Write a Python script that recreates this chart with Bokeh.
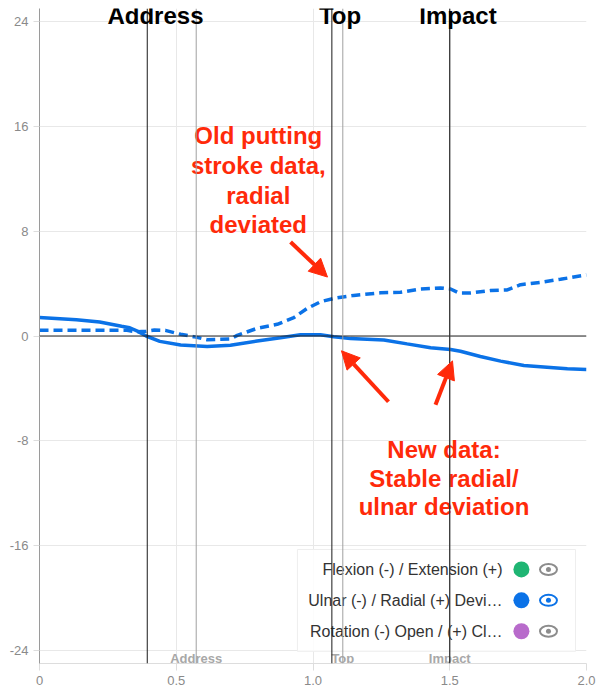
from bokeh.plotting import figure
from bokeh.models import Range1d, Span, Arrow, NormalHead, FixedTicker, Label
from bokeh.core.properties import value
from bokeh.embed import file_html
from bokeh.resources import INLINE

# ---------------- data ----------------
new_t = [0, 0.135, 0.22, 0.30, 0.33, 0.36, 0.39, 0.44, 0.516, 0.613, 0.698, 0.796, 0.881, 0.954,
         1.027, 1.076, 1.137, 1.259, 1.344, 1.43, 1.503, 1.539, 1.612, 1.686, 1.771, 1.88, 1.93, 2.0]
new_dev = [1.42, 1.24, 1.07, 0.74, 0.63, 0.35, 0.0, -0.41, -0.69, -0.81, -0.71, -0.38, -0.13, 0.1,
           0.1, -0.05, -0.2, -0.3, -0.6, -0.9, -1.03, -1.16, -1.56, -1.92, -2.25, -2.42, -2.5, -2.55]

old_t = [0, 0.14, 0.32, 0.35, 0.39, 0.42, 0.46, 0.516, 0.563, 0.613, 0.698, 0.723, 0.796, 0.869,
         0.93, 0.979, 1.027, 1.076, 1.149, 1.247, 1.32, 1.393, 1.466, 1.503, 1.533, 1.576, 1.649,
         1.71, 1.759, 1.832, 1.905, 2.0]
old_dev = [0.43, 0.43, 0.43, 0.32, 0.36, 0.45, 0.43, 0.13, -0.05, -0.28, -0.23, 0.05, 0.59, 0.89,
           1.40, 2.11, 2.61, 2.87, 3.10, 3.30, 3.34, 3.59, 3.67, 3.59, 3.29, 3.29, 3.47,
           3.52, 3.92, 4.10, 4.33, 4.66]

event_names = ["Address", "Top", "Impact"]
old_events = [0.394, 1.069, 1.5]      # black lines (old stroke)
new_events = [0.573, 1.109, 1.5]      # gray lines (new data)

x_ticks = [0, 0.5, 1.0, 1.5, 2.0]
x_tick_labels = ["0", "0.5", "1.0", "1.5", "2.0"]
y_ticks = [-24, -16, -8, 0, 8, 16, 24]
y_tick_labels = ["-24", "-16", "-8", "0", "8", "16", "24"]

legend_labels = ["Flexion (-) / Extension (+)", "Ulnar (-) / Radial (+) Devi\u2026",
                 "Rotation (-) Open / (+) Cl\u2026"]
legend_colors = ["#1fb573", "#0b72e7", "#b86bcb"]
legend_eye_colors = ["#8c8c8c", "#0b72e7", "#8c8c8c"]

old_note = ["Old putting", "stroke data,", "radial", "deviated"]
new_note = ["New data:", "Stable radial/", "ulnar deviation"]

FONT = "Liberation Sans"
BLUE = "#0b72e7"
RED = "#ff2a0a"

# ---------------- figure ----------------
p = figure(width=600, height=698, output_backend="svg", toolbar_location=None,
           x_range=Range1d(0, 2.0), y_range=Range1d(-25, 25),
           min_border_left=39, min_border_right=14, min_border_top=8, min_border_bottom=35)
p.outline_line_color = None
p.background_fill_color = "white"
p.border_fill_color = "white"

for ax in (p.xaxis[0], p.yaxis[0]):
    ax.major_label_text_font = FONT
    ax.major_label_text_font_size = "13px"
    ax.major_label_text_color = "#8a8a8a"
    ax.minor_tick_line_color = None
    ax.major_tick_in = 0
    ax.major_tick_line_color = "#dddddd"

p.xaxis.ticker = FixedTicker(ticks=x_ticks)
p.xaxis.major_label_overrides = {t: s for t, s in zip(x_ticks, x_tick_labels)}
p.xaxis.axis_line_color = "#dddddd"
p.xaxis.major_tick_out = 7
p.xaxis.major_label_standoff = 5

p.yaxis.ticker = FixedTicker(ticks=y_ticks)
p.yaxis.major_label_overrides = {t: s for t, s in zip(y_ticks, y_tick_labels)}
p.yaxis.axis_line_color = "#9a9a9a"
p.yaxis.major_tick_out = 6
p.yaxis.major_label_standoff = 5

p.xgrid.ticker = FixedTicker(ticks=x_ticks)
p.ygrid.ticker = FixedTicker(ticks=y_ticks)
p.xgrid.grid_line_color = "#e8e8e8"
p.ygrid.grid_line_color = "#e8e8e8"

# zero line
p.add_layout(Span(location=0, dimension="width", line_color="#222222", line_width=1))

# event lines
for t in new_events:
    p.add_layout(Span(location=t, dimension="height", line_color="#a0a0a0", line_width=1))
for t in old_events:
    p.add_layout(Span(location=t, dimension="height", line_color="#1a1a1a", line_width=1))

# data lines
p.line(old_t, old_dev, line_color=BLUE, line_width=3.5, line_dash="9 5")
p.line(new_t, new_dev, line_color=BLUE, line_width=3.5)

# big bold labels on top (old stroke events)
for name, t in zip(event_names, old_events):
    p.add_layout(Label(x=t + 0.03, y=24.47, text=name, text_align="center",
                       text_baseline="alphabetic", text_font=FONT, text_font_style="bold",
                       text_font_size="24px", text_color="black"))

# red notes
p.text(x=[0.80] * 4, y=[15.32, 13.04, 10.75, 8.54], text=old_note, text_align="center",
       text_baseline="alphabetic", text_font=value(FONT), text_font_style="bold",
       text_font_size="24px", text_color=RED)
p.text(x=[1.479] * 3, y=[-8.68, -10.89, -13.02], text=new_note, text_align="center",
       text_baseline="alphabetic", text_font=value(FONT), text_font_style="bold",
       text_font_size="24px", text_color=RED)

for (xs, ys, xe, ye) in [(0.918, 7.17, 1.053, 4.50), (1.276, -5.02, 1.104, -1.13),
                         (1.448, -5.25, 1.510, -1.90)]:
    p.add_layout(Arrow(x_start=xs, y_start=ys, x_end=xe, y_end=ye, line_color=RED, line_width=4,
                       end=NormalHead(size=18, fill_color=RED, line_color=RED, line_width=1)))

# legend box (drawn inside the plot)
p.quad(left=[0.943], right=[1.960], top=[-16.30], bottom=[-24.07],
       fill_color="white", fill_alpha=0.85, line_color="#eeeeee", line_width=1)
rows_y = [-17.82, -20.18, -22.54]
p.text(x=[1.693] * 3, y=rows_y, text=legend_labels, text_align="right", text_baseline="middle",
       text_font=value(FONT), text_font_size="16px", text_color="#333333")
p.scatter(x=[1.762] * 3, y=rows_y, size=16, marker="circle", fill_color=legend_colors,
          line_color=None)
p.ellipse(x=[1.861] * 3, y=rows_y, width=17, height=11, width_units="screen",
          height_units="screen", fill_color=None, line_color=legend_eye_colors, line_width=2)
p.scatter(x=[1.861] * 3, y=rows_y, size=5, marker="circle", fill_color=legend_eye_colors,
          line_color=None)

# gray event labels at the bottom (new data events)
p.text(x=new_events, y=[-24.63] * 3, text=event_names, text_align="center",
       text_baseline="alphabetic", text_font=value(FONT), text_font_style="bold",
       text_font_size="13px", text_color="#a8a8a8")

open("out.html", "w").write(file_html(p, INLINE))
